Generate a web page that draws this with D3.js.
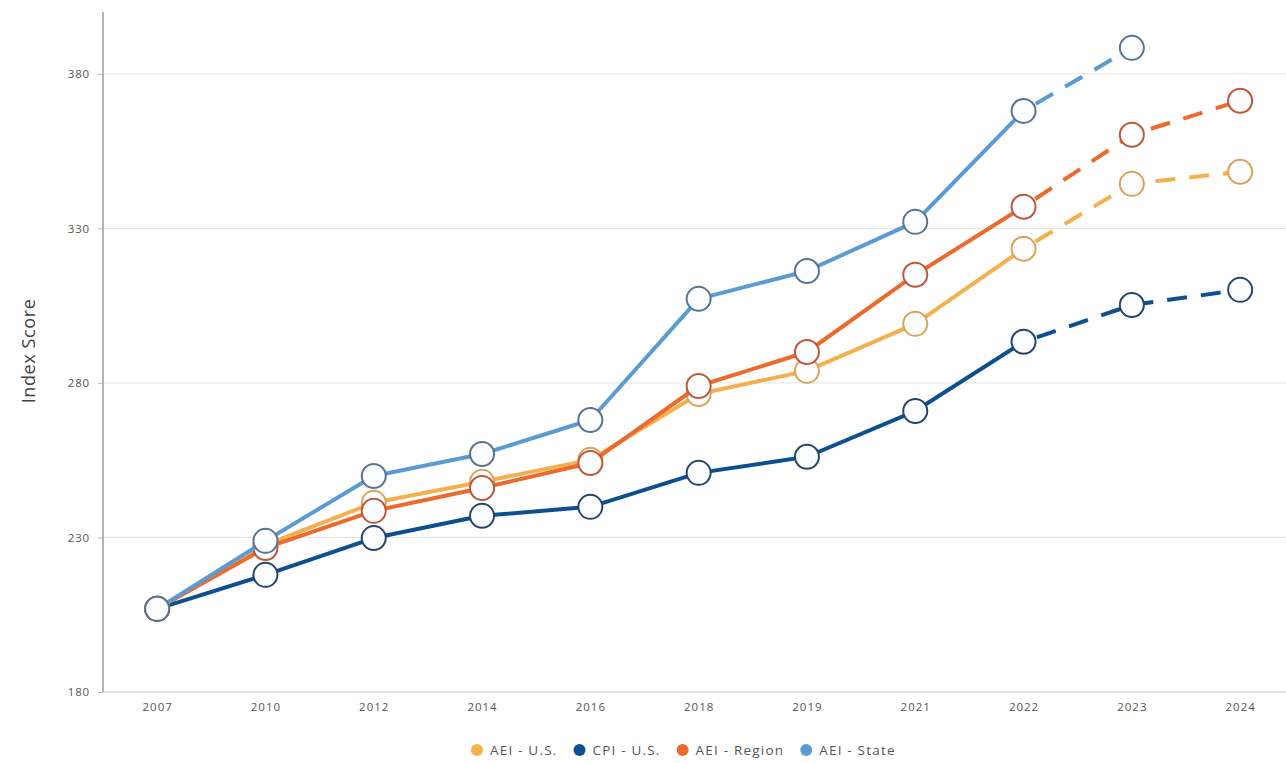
<!DOCTYPE html>
<html>
<head>
<meta charset="utf-8">
<script src="https://cdn.jsdelivr.net/npm/d3@7"></script>
<style>
  body { margin: 0; background: #fff; font-family: "Open Sans", "DejaVu Sans", sans-serif; }
</style>
</head>
<body>
<script>
const years = ["2007", "2010", "2012", "2014", "2016", "2018", "2019", "2021", "2022", "2023", "2024"];
const aeiUS = [206.9, 227.6, 241.2, 248.0, 255.1, 276.4, 283.9, 299.1, 323.4, 344.4, 348.3];
const cpiUS = [206.9, 217.9, 229.8, 237.0, 239.9, 250.9, 256.1, 270.9, 293.3, 305.2, 310.1];
const aeiRegion = [206.9, 226.6, 238.6, 246.0, 254.1, 279.0, 290.0, 315.0, 337.0, 360.3, 371.3];
const aeiState = [206.9, 228.9, 249.9, 257.0, 268.0, 307.2, 316.2, 332.1, 368.0, 388.4, null];
const yTicks = [180, 230, 280, 330, 380];
const dashFrom = "2022";

const series = [
  { name: "AEI - U.S.", values: aeiUS, color: "#f4b04f", ring: "#d9a45a" },
  { name: "CPI - U.S.", values: cpiUS, color: "#0d4f8f", ring: "#26456b" },
  { name: "AEI - Region", values: aeiRegion, color: "#eb6a2c", ring: "#c0573a" },
  { name: "AEI - State", values: aeiState, color: "#5b9bd3", ring: "#5a7490" }
];

const w = 1286, h = 763;
const padLeft = 103, axisBottom = 692, axisTop = 12;

const svg = d3.select("body").append("svg")
  .attr("width", w)
  .attr("height", h);

const x = d3.scalePoint()
  .domain(years)
  .range([padLeft, padLeft + 108.3 * 11])
  .padding(0.5);

const y = d3.scaleLinear()
  .domain([180, 400])
  .range([axisBottom, axisTop]);

// grid
svg.append("g")
  .selectAll("line")
  .data(yTicks.slice(1))
  .enter()
  .append("line")
  .attr("x1", padLeft)
  .attr("x2", w)
  .attr("y1", d => y(d))
  .attr("y2", d => y(d))
  .attr("stroke", "#e3e3e3")
  .attr("stroke-width", 1);

// y axis
const yAxis = svg.append("g")
  .attr("transform", "translate(" + padLeft + ",0)")
  .call(d3.axisLeft(y).tickValues(yTicks).tickSize(5).tickPadding(8));
yAxis.select(".domain").attr("stroke", "#9a9a9a").attr("stroke-width", 1.5)
  .attr("d", "M0," + axisTop + "V" + axisBottom);
yAxis.selectAll(".tick line").attr("stroke", "#bbb");
yAxis.selectAll("text").attr("fill", "#555").style("font-size", "11.5px")
  .style("letter-spacing", "0.8px")
  .style("font-family", "Open Sans, sans-serif");

// x axis
const xAxis = svg.append("g")
  .attr("transform", "translate(0," + axisBottom + ")")
  .call(d3.axisBottom(x).tickSize(0).tickPadding(11));
xAxis.select(".domain").attr("stroke", "#ccc").attr("d", "M" + padLeft + ",0H" + w);
xAxis.selectAll("text").attr("fill", "#555").style("font-size", "11.5px")
  .style("letter-spacing", "1px")
  .style("font-family", "Open Sans, sans-serif");

svg.append("text")
  .attr("transform", "translate(35," + 351 + ") rotate(-90)")
  .attr("text-anchor", "middle")
  .attr("fill", "#444")
  .style("font-size", "18px")
  .style("letter-spacing", "0.6px")
  .text("Index Score");

const line = d3.line()
  .defined(d => d.v != null)
  .x(d => x(d.year))
  .y(d => y(d.v));

const cut = years.indexOf(dashFrom);

series.forEach(s => {
  const pts = years.map((yr, i) => ({ year: yr, v: s.values[i] }));
  const g = svg.append("g");
  g.append("path")
    .datum(pts.slice(0, cut + 1))
    .attr("d", line)
    .attr("fill", "none")
    .attr("stroke", s.color)
    .attr("stroke-width", 4)
    .attr("stroke-linejoin", "round");
  g.append("path")
    .datum(pts.slice(cut))
    .attr("d", line)
    .attr("fill", "none")
    .attr("stroke", s.color)
    .attr("stroke-width", 4)
    .attr("stroke-dasharray", "20,14")
    .attr("stroke-dashoffset", -14);
  g.selectAll("circle")
    .data(pts.filter(d => d.v != null))
    .enter()
    .append("circle")
    .attr("cx", d => x(d.year))
    .attr("cy", d => y(d.v))
    .attr("r", 12)
    .attr("fill", "#fbfdff")
    .attr("stroke", s.ring)
    .attr("stroke-width", 2);
});

// legend
const legend = svg.append("g").attr("transform", "translate(0,750)");
let lx = 477;
series.forEach(s => {
  const item = legend.append("g").attr("transform", "translate(" + lx + ",0)");
  item.append("circle").attr("r", 6).attr("cy", 0).attr("fill", s.color);
  const t = item.append("text")
    .attr("x", 13)
    .attr("y", 4.5)
    .attr("fill", "#555")
    .style("font-size", "13.5px")
    .style("letter-spacing", "1.2px")
    .text(s.name);
  lx += 13 + t.node().getComputedTextLength() + 22;
});
</script>
</body>
</html>
